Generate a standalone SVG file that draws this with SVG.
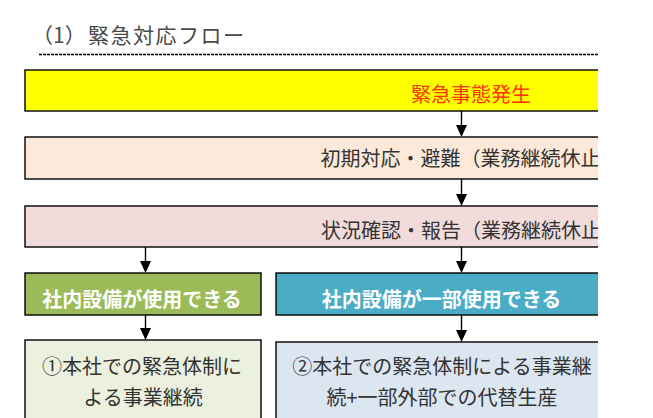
<svg xmlns="http://www.w3.org/2000/svg" width="653" height="418" viewBox="0 0 653 418">
<style>
  .box { stroke: #000; stroke-width: 1.4; }
  .t { font-family: "Noto Sans CJK JP", "Noto Sans", sans-serif; font-size: 20px; fill: #333; }
  .w { fill: #fff; font-weight: 700; }
  .c { text-anchor: middle; }
  .conn { stroke: #000; stroke-width: 1.4; fill: none; }
</style>
<defs>
  <clipPath id="crop"><rect x="0" y="0" width="598" height="418"/></clipPath>
  <marker id="ah" markerUnits="userSpaceOnUse" markerWidth="12" markerHeight="12" viewBox="0 0 12 12" refX="8" refY="6" orient="auto">
    <path d="M0,0.5 L12,6 L0,11.5 Z" fill="#000"/>
  </marker>
</defs>
<rect width="653" height="418" fill="#fff"/>
<g id="title">
  <text class="t" style="font-size:21px;fill:#4a4a4a"><tspan x="32" y="43">（1）</tspan><tspan x="88" y="43" style="letter-spacing:1.5px">緊急対応フロー</tspan></text>
  <line x1="39" y1="54.5" x2="598" y2="54.5" stroke="#000" stroke-width="1.5" stroke-dasharray="3 1"/>
</g>
<g clip-path="url(#crop)">
  <g id="n1">
    <rect class="box" x="25" y="70" width="620" height="41" fill="#FFFF00"/>
    <text class="t c" x="471" y="102" style="fill:#FF3300">緊急事態発生</text>
  </g>
  <g id="n2">
    <rect class="box" x="25" y="137" width="620" height="42" fill="#FDE9D9"/>
    <text class="t" x="320.5" y="166">初期対応・避難（業務継続休止</text>
  </g>
  <g id="n3">
    <rect class="box" x="25" y="206" width="620" height="41" fill="#F2DCDB"/>
    <text class="t" x="321" y="238">状況確認・報告（業務継続休止</text>
  </g>
  <g id="n4">
    <rect class="box" x="25" y="273" width="236" height="42" fill="#9BBB59"/>
    <text class="t w c" x="142" y="306.5">社内設備が使用できる</text>
  </g>
  <g id="n5">
    <rect class="box" x="276" y="273" width="370" height="42" fill="#4BACC6"/>
    <text class="t w c" x="441.5" y="306.5">社内設備が一部使用できる</text>
  </g>
  <g id="n6">
    <rect class="box" x="25" y="340" width="236" height="100" fill="#EBF1DE"/>
    <text class="t c" x="142" y="374">①本社での緊急体制に</text>
    <text class="t c" x="143" y="405">よる事業継続</text>
  </g>
  <g id="n7">
    <rect class="box" x="276" y="342" width="370" height="100" fill="#DCE6F1"/>
    <text class="t c" x="442" y="374">②本社での緊急体制による事業継</text>
    <text class="t c" x="442" y="405">続+一部外部での代替生産</text>
  </g>
  <g id="connectors">
    <line class="conn" x1="461.5" y1="111" x2="461.5" y2="133" marker-end="url(#ah)"/>
    <line class="conn" x1="461.5" y1="179" x2="461.5" y2="202" marker-end="url(#ah)"/>
    <line class="conn" x1="145.5" y1="247" x2="145.5" y2="269" marker-end="url(#ah)"/>
    <line class="conn" x1="461.5" y1="247" x2="461.5" y2="269" marker-end="url(#ah)"/>
    <line class="conn" x1="145.5" y1="315" x2="145.5" y2="336" marker-end="url(#ah)"/>
    <line class="conn" x1="461.5" y1="315" x2="461.5" y2="338" marker-end="url(#ah)"/>
  </g>
</g>
</svg>
